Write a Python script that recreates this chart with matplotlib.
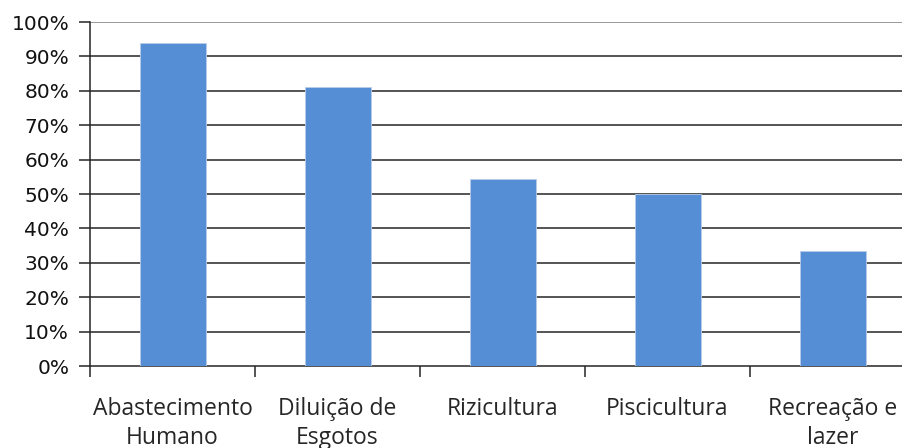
import numpy as np
import matplotlib
matplotlib.use("Agg")
import matplotlib.pyplot as plt
from matplotlib.ticker import FixedLocator, PercentFormatter

categories = ["Abastecimento\nHumano", "Diluição de\nEsgotos", "Rizicultura", "Piscicultura", "Recreação e\nlazer"]
values = [94.0, 81.2, 54.3, 50.0, 33.5]
yticks = list(range(0, 101, 10))

fig = plt.figure(figsize=(9.02, 4.48), dpi=100)
# axes runs a little past the right edge of the picture, as in the reference
ax = fig.add_axes([90 / 902, 1 - 366 / 448, 825 / 902, 344 / 448])

x = np.arange(len(categories))
ax.bar(x, values, width=0.4, color="#558ed5", edgecolor="#b9cde8", lw=0.6, zorder=3)

ax.set_xlim(-0.5, len(categories) - 0.5)
ax.set_ylim(0, 100)
ax.set_yticks(yticks)
ax.yaxis.set_major_formatter(PercentFormatter(decimals=0))
for t in yticks[1:]:
    ax.axhline(t, color="#7f7f7f" if t == 100 else "#262626", lw=1.1, zorder=1)

ax.set_xticks(x)
ax.set_xticklabels(categories, fontfamily="Open Sans", fontsize=16.5, color="#262626", linespacing=1.3)
ax.xaxis.set_minor_locator(FixedLocator(np.arange(-0.5, len(categories), 1.0)))
ax.tick_params(axis="x", which="major", length=0, pad=22)
ax.tick_params(axis="x", which="minor", length=8, width=1.1, color="#262626")
ax.tick_params(axis="y", length=8, width=1.1, color="#262626", labelsize=14.5, labelcolor="#111111",
               pad=7, labelfontfamily="DejaVu Sans")

for side in ("top", "right"):
    ax.spines[side].set_visible(False)
ax.spines["left"].set_color("#262626")
ax.spines["bottom"].set_color("#262626")
ax.spines["left"].set_linewidth(1.1)
ax.spines["bottom"].set_linewidth(1.1)

fig.savefig("out.png", dpi=100)
